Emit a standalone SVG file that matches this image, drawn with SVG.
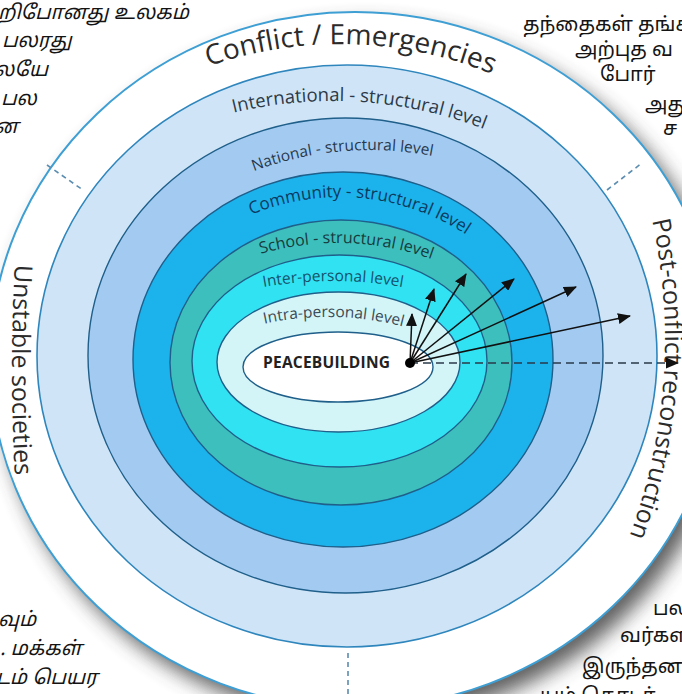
<svg xmlns="http://www.w3.org/2000/svg" width="682" height="694" viewBox="0 0 682 694">
<style>
.ta{font-family:'Noto Sans Tamil','Noto Serif Tamil','Lohit Tamil','Noto Sans',sans-serif;font-size:20px;fill:#141414}
.it{font-style:italic}
.ring{stroke:#1f5f8a;stroke-width:1.4}
.lbl{font-family:'Open Sans','Liberation Sans',sans-serif}
.dash{fill:none;stroke:#5b8db0;stroke-width:1.6;stroke-dasharray:5 4}
.arr{fill:none;stroke:#111;stroke-width:1.5}
</style>
<defs>
<filter id="blur" x="-20%" y="-20%" width="140%" height="140%"><feGaussianBlur stdDeviation="10"/></filter>
<marker id="ah" markerWidth="13" markerHeight="11" refX="12" refY="5.5" orient="auto" markerUnits="userSpaceOnUse"><path d="M0,0 L13,5.5 L0,11 z" fill="#111"/></marker>
<path id="pConf" d="M57.2 161.2 A400 400 0 0 1 622.8 161.2"/>
<path id="pIntl" d="M60 200.2 A424 424 0 0 1 605 200.2"/>
<path id="pNat" d="M136.7 246.7 A330 330 0 0 1 603.3 246.7"/>
<path id="pCom" d="M151.6 295.1 A230 230 0 0 1 528.4 295.1"/>
<path id="pSch" d="M140 325 A280 280 0 0 1 536 325"/>
<path id="pInter" d="M133 334.6 A400 400 0 0 1 533 334.6"/>
<path id="pIntra" d="M155.9 371.2 A300 300 0 0 1 500.1 371.2"/>
<path id="pLeft" d="M16 245 Q8 370 16 495"/>
<path id="pRight" d="M646 195 A562 562 0 0 1 620 560"/>
</defs>
<rect width="682" height="694" fill="#ffffff"/>

<g id="page-text">
<text class="ta it" x="-2" y="19">றிபோனது உலகம்</text>
<text class="ta it" x="2" y="47">பலரது</text>
<text class="ta it" x="-6" y="76">லயே</text>
<text class="ta it" x="1" y="105">பல</text>
<text class="ta it" x="-6" y="133">ன</text>
<text class="ta" x="523" y="31">தந்தைகள் தங்க</text>
<text class="ta" x="575" y="56">அற்புத வ</text>
<text class="ta" x="600" y="81">போர்</text>
<text class="ta" x="645" y="111">அது</text>
<text class="ta" x="663" y="135">ச</text>
<text class="ta it" x="-2" y="626">வும்</text>
<text class="ta it" x="0" y="655">. மக்கள்</text>
<text class="ta it" x="-4" y="684">டம் பெயர</text>
<text class="ta" x="653" y="615">பல</text>
<text class="ta" x="620" y="642">வர்கள</text>
<text class="ta" x="582" y="673">இருந்தன</text>
<text class="ta" x="540" y="702">யும் தொடர்</text>
</g>

<ellipse cx="365" cy="372" rx="365" ry="348" fill="#444" opacity="0.85" filter="url(#blur)"/>

<g id="ring-outer">
<ellipse cx="355" cy="360" rx="365" ry="348" fill="#ffffff" stroke="#3e9fd4" stroke-width="2"/>
<text class="lbl" font-size="28" fill="#2b2b2b" text-anchor="middle"><textPath href="#pConf" startOffset="325">Conflict / Emergencies</textPath></text>
<text class="lbl" font-size="25" fill="#2b2b2b" text-anchor="middle"><textPath href="#pLeft" startOffset="50%">Unstable societies</textPath></text>
<text class="lbl" font-size="25" fill="#2b2b2b" text-anchor="middle"><textPath href="#pRight" startOffset="50%">Post-conflict reconstruction</textPath></text>
</g>
<g id="ring-international">
<ellipse cx="347" cy="356" rx="310" ry="291" fill="#cfe5f7" stroke="#2f86bd" stroke-width="1.6"/>
<text class="lbl" font-size="18.5" fill="#2c3a48" text-anchor="middle"><textPath href="#pIntl" startOffset="323.5">International - structural level</textPath></text>
</g>
<g id="ring-national">
<ellipse class="ring" cx="345.5" cy="355.5" rx="257.5" ry="237.5" fill="#a3cbf2"/>
<text class="lbl" font-size="15.5" fill="#27384c" text-anchor="middle"><textPath href="#pNat" startOffset="231">National - structural level</textPath></text>
</g>
<g id="ring-community">
<ellipse class="ring" cx="343" cy="359.5" rx="210" ry="187.5" fill="#1cb2ec"/>
<text class="lbl" font-size="17" fill="#0d3a5e" text-anchor="middle"><textPath href="#pCom" startOffset="241.8">Community - structural level</textPath></text>
</g>
<g id="ring-school">
<ellipse class="ring" cx="341" cy="362.5" rx="171" ry="142.5" fill="#3dbfbd"/>
<text class="lbl" font-size="16" fill="#173b3d" text-anchor="middle"><textPath href="#pSch" startOffset="228.4">School - structural level</textPath></text>
</g>
<g id="ring-interpersonal">
<ellipse class="ring" cx="339.5" cy="361" rx="147.5" ry="106" fill="#31e2f3"/>
<text class="lbl" font-size="15.5" fill="#15536a" text-anchor="middle"><textPath href="#pInter" startOffset="50%">Inter-personal level</textPath></text>
</g>
<g id="ring-intrapersonal">
<ellipse class="ring" cx="338.5" cy="362" rx="121.5" ry="70" fill="#d4f5f8"/>
<text class="lbl" font-size="15.5" fill="#3a4a55" text-anchor="middle"><textPath href="#pIntra" startOffset="189">Intra-personal level</textPath></text>
</g>
<g id="peacebuilding">
<ellipse class="ring" cx="338" cy="367" rx="95" ry="35" fill="#ffffff"/>
<text class="lbl" x="263" y="368" font-size="15.5" font-weight="bold" fill="#222" textLength="127">PEACEBUILDING</text>
</g>

<g id="connectors">
<line class="dash" x1="47" y1="165" x2="83" y2="190"/>
<line class="dash" x1="607" y1="190" x2="642" y2="163"/>
<line class="dash" x1="348" y1="653" x2="348" y2="694"/>
<line class="arr" x1="410" y1="363" x2="412" y2="314" marker-end="url(#ah)"/>
<line class="arr" x1="410" y1="363" x2="434" y2="289" marker-end="url(#ah)"/>
<line class="arr" x1="410" y1="363" x2="466" y2="274" marker-end="url(#ah)"/>
<line class="arr" x1="410" y1="363" x2="514" y2="279" marker-end="url(#ah)"/>
<line class="arr" x1="410" y1="363" x2="576" y2="287" marker-end="url(#ah)"/>
<line class="arr" x1="410" y1="363" x2="630" y2="316" marker-end="url(#ah)"/>
<line x1="410" y1="363" x2="678" y2="363" stroke="#2a3a4a" stroke-width="1.6" stroke-dasharray="8 5" marker-end="url(#ah)"/>
<circle cx="410" cy="363" r="5" fill="#000"/>
</g>
</svg>
